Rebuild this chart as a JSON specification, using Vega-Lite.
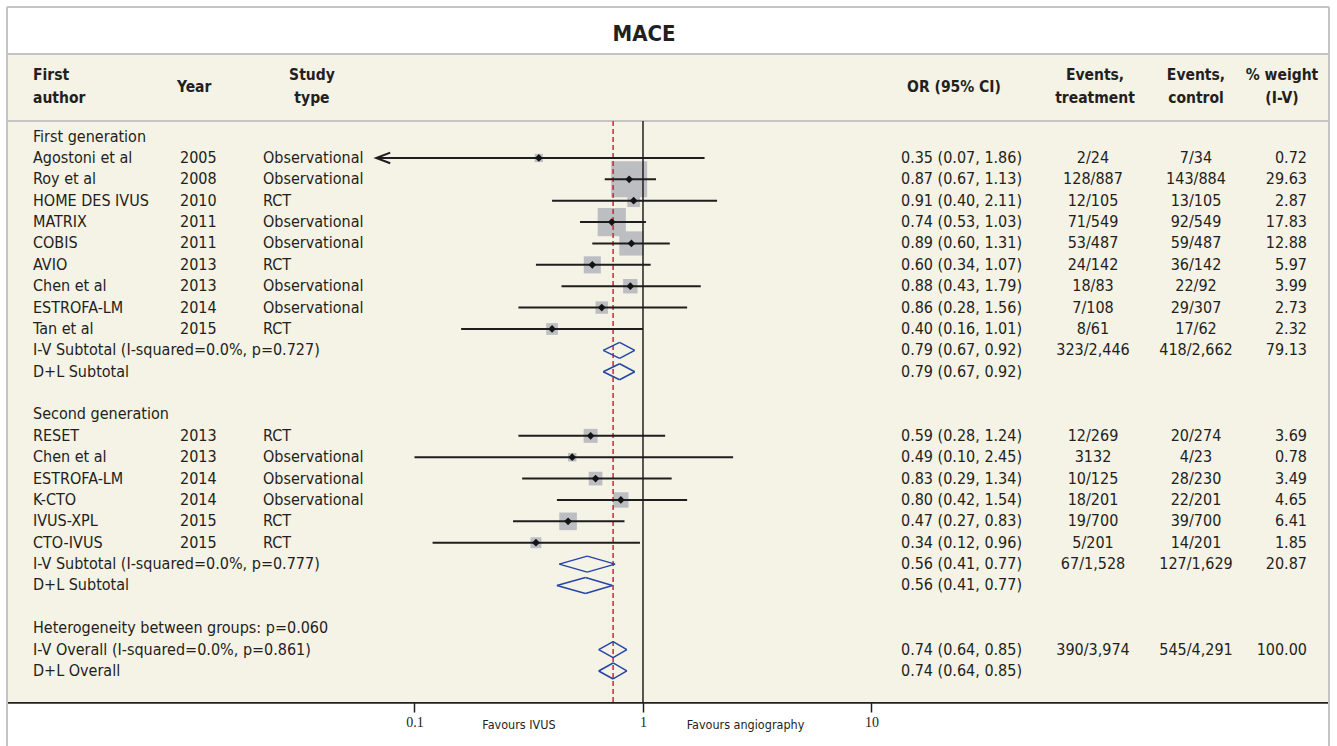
{
  "$schema": "https://vega.github.io/schema/vega-lite/v6.json",
  "width": 1322,
  "height": 739,
  "autosize": {"type": "none"},
  "padding": {"left": 7, "top": 7, "right": 8, "bottom": 0},
  "background": "#ffffff",
  "config": {
    "view": {"stroke": null},
    "text": {"font": "DejaVu Sans Condensed, sans-serif", "fontSize": 16, "color": "#231f20", "baseline": "middle"}
  },
  "resolve": {"axis": {"x": "independent", "y": "independent"}},
  "datasets": {
    "rows": [
      {"row": 0, "kind": "group", "label": "First generation"},
      {"row": 1, "kind": "study", "label": "Agostoni et al", "year": "2005", "type": "Observational", "est": 0.35, "lo": 0.068, "hi": 1.86, "orci": "0.35 (0.07, 1.86)", "evt": "2/24", "ctl": "7/34", "w": 0.72},
      {"row": 2, "kind": "study", "label": "Roy et al", "year": "2008", "type": "Observational", "est": 0.87, "lo": 0.68, "hi": 1.14, "orci": "0.87 (0.67, 1.13)", "evt": "128/887", "ctl": "143/884", "w": 29.63},
      {"row": 3, "kind": "study", "label": "HOME DES IVUS", "year": "2010", "type": "RCT", "est": 0.91, "lo": 0.40, "hi": 2.11, "orci": "0.91 (0.40, 2.11)", "evt": "12/105", "ctl": "13/105", "w": 2.87},
      {"row": 4, "kind": "study", "label": "MATRIX", "year": "2011", "type": "Observational", "est": 0.73, "lo": 0.53, "hi": 1.03, "orci": "0.74 (0.53, 1.03)", "evt": "71/549", "ctl": "92/549", "w": 17.83},
      {"row": 5, "kind": "study", "label": "COBIS", "year": "2011", "type": "Observational", "est": 0.89, "lo": 0.60, "hi": 1.31, "orci": "0.89 (0.60, 1.31)", "evt": "53/487", "ctl": "59/487", "w": 12.88},
      {"row": 6, "kind": "study", "label": "AVIO", "year": "2013", "type": "RCT", "est": 0.60, "lo": 0.34, "hi": 1.08, "orci": "0.60 (0.34, 1.07)", "evt": "24/142", "ctl": "36/142", "w": 5.97},
      {"row": 7, "kind": "study", "label": "Chen et al", "year": "2013", "type": "Observational", "est": 0.88, "lo": 0.44, "hi": 1.79, "orci": "0.88 (0.43, 1.79)", "evt": "18/83", "ctl": "22/92", "w": 3.99},
      {"row": 8, "kind": "study", "label": "ESTROFA-LM", "year": "2014", "type": "Observational", "est": 0.66, "lo": 0.285, "hi": 1.56, "orci": "0.86 (0.28, 1.56)", "evt": "7/108", "ctl": "29/307", "w": 2.73},
      {"row": 9, "kind": "study", "label": "Tan et al", "year": "2015", "type": "RCT", "est": 0.40, "lo": 0.16, "hi": 1.00, "orci": "0.40 (0.16, 1.01)", "evt": "8/61", "ctl": "17/62", "w": 2.32},
      {"row": 10, "kind": "sub", "label": "I-V Subtotal (I-squared=0.0%, p=0.727)", "est": 0.79, "lo": 0.67, "hi": 0.92, "orci": "0.79 (0.67, 0.92)", "evt": "323/2,446", "ctl": "418/2,662", "w": 79.13},
      {"row": 11, "kind": "sub", "label": "D+L Subtotal", "est": 0.79, "lo": 0.67, "hi": 0.92, "orci": "0.79 (0.67, 0.92)"},
      {"row": 13, "kind": "group", "label": "Second generation"},
      {"row": 14, "kind": "study", "label": "RESET", "year": "2013", "type": "RCT", "est": 0.59, "lo": 0.285, "hi": 1.25, "orci": "0.59 (0.28, 1.24)", "evt": "12/269", "ctl": "20/274", "w": 3.69},
      {"row": 15, "kind": "study", "label": "Chen et al", "year": "2013", "type": "Observational", "est": 0.49, "lo": 0.10, "hi": 2.48, "orci": "0.49 (0.10, 2.45)", "evt": "3132", "ctl": "4/23", "w": 0.78},
      {"row": 16, "kind": "study", "label": "ESTROFA-LM", "year": "2014", "type": "Observational", "est": 0.62, "lo": 0.296, "hi": 1.335, "orci": "0.83 (0.29, 1.34)", "evt": "10/125", "ctl": "28/230", "w": 3.49},
      {"row": 17, "kind": "study", "label": "K-CTO", "year": "2014", "type": "Observational", "est": 0.80, "lo": 0.42, "hi": 1.56, "orci": "0.80 (0.42, 1.54)", "evt": "18/201", "ctl": "22/201", "w": 4.65},
      {"row": 18, "kind": "study", "label": "IVUS-XPL", "year": "2015", "type": "RCT", "est": 0.47, "lo": 0.27, "hi": 0.83, "orci": "0.47 (0.27, 0.83)", "evt": "19/700", "ctl": "39/700", "w": 6.41},
      {"row": 19, "kind": "study", "label": "CTO-IVUS", "year": "2015", "type": "RCT", "est": 0.34, "lo": 0.12, "hi": 0.97, "orci": "0.34 (0.12, 0.96)", "evt": "5/201", "ctl": "14/201", "w": 1.85},
      {"row": 20, "kind": "sub", "label": "I-V Subtotal (I-squared=0.0%, p=0.777)", "est": 0.57, "lo": 0.43, "hi": 0.755, "orci": "0.56 (0.41, 0.77)", "evt": "67/1,528", "ctl": "127/1,629", "w": 20.87},
      {"row": 21, "kind": "sub", "label": "D+L Subtotal", "est": 0.56, "lo": 0.42, "hi": 0.735, "orci": "0.56 (0.41, 0.77)"},
      {"row": 23, "kind": "group", "label": "Heterogeneity between groups: p=0.060"},
      {"row": 24, "kind": "sub", "label": "I-V Overall (I-squared=0.0%, p=0.861)", "est": 0.74, "lo": 0.64, "hi": 0.85, "orci": "0.74 (0.64, 0.85)", "evt": "390/3,974", "ctl": "545/4,291", "w": 100.00},
      {"row": 25, "kind": "sub", "label": "D+L Overall", "est": 0.74, "lo": 0.64, "hi": 0.85, "orci": "0.74 (0.64, 0.85)"}
    ]
  },
  "data": {"name": "rows"},
  "layer": [
    {
      "data": {"values": [{}]},
      "mark": {"type": "rect", "color": "#f5f2e6"},
      "encoding": {
        "x": {"datum": 0.001647, "type": "quantitative", "scale": {"type": "log", "domain": [0.001647, 1005], "nice": false}, "axis": null},
        "x2": {"datum": 1005},
        "y": {"datum": -3.864, "type": "quantitative", "scale": {"domain": [-6.063, 28.51], "reverse": true, "nice": false, "zero": false}, "axis": null},
        "y2": {"datum": 26.45}
      }
    },
    {
      "data": {"values": [{}]},
      "mark": {"type": "rule", "color": "#c4c4c4", "strokeWidth": 2},
      "encoding": {
        "x": {"datum": 0.001647, "type": "quantitative", "axis": null},
        "x2": {"datum": 1005},
        "y": {"datum": -3.864, "type": "quantitative", "axis": null}
      }
    },
    {
      "data": {"values": [{}]},
      "mark": {"type": "rule", "color": "#c4c4c4", "strokeWidth": 2},
      "encoding": {
        "x": {"datum": 0.001647, "type": "quantitative", "axis": null},
        "x2": {"datum": 1005},
        "y": {"datum": -0.73, "type": "quantitative", "axis": null}
      }
    },
    {
      "data": {"values": [{}]},
      "mark": {"type": "rule", "color": "#c4c4c4", "strokeWidth": 2},
      "encoding": {
        "x": {"datum": 0.001647, "type": "quantitative", "axis": null},
        "x2": {"datum": 1005},
        "y": {"datum": -6.063, "type": "quantitative", "axis": null}
      }
    },
    {
      "data": {"values": [{}]},
      "mark": {"type": "rule", "color": "#c4c4c4", "strokeWidth": 2},
      "encoding": {
        "x": {"datum": 0.001647, "type": "quantitative", "axis": null},
        "y": {"datum": -6.063, "type": "quantitative", "axis": null},
        "y2": {"datum": 28.51}
      }
    },
    {
      "data": {"values": [{}]},
      "mark": {"type": "rule", "color": "#c4c4c4", "strokeWidth": 2},
      "encoding": {
        "x": {"datum": 1005, "type": "quantitative", "axis": null},
        "y": {"datum": -6.063, "type": "quantitative", "axis": null},
        "y2": {"datum": 28.51}
      }
    },
    {
      "transform": [{"filter": "datum.kind === 'study'"}],
      "mark": {"type": "square", "color": "#bcbec2", "opacity": 1, "filled": true},
      "encoding": {
        "x": {"field": "est", "type": "quantitative", "axis": null},
        "y": {"field": "row", "type": "quantitative", "axis": null},
        "size": {"field": "w", "type": "quantitative", "scale": {"domain": [0.72, 29.63], "range": [69, 1296], "zero": false}, "legend": null}
      }
    },
    {
      "data": {"values": [{}]},
      "mark": {"type": "rule", "color": "#231f20", "strokeWidth": 1.5},
      "encoding": {
        "x": {"datum": 1, "type": "quantitative", "axis": null},
        "y": {"datum": -0.73, "type": "quantitative", "axis": null},
        "y2": {"datum": 26.45}
      }
    },
    {
      "data": {"values": [{}]},
      "mark": {"type": "rule", "color": "#c8283a", "strokeWidth": 1.5, "strokeDash": [5, 3]},
      "encoding": {
        "x": {"datum": 0.74, "type": "quantitative", "axis": null},
        "y": {"datum": -0.73, "type": "quantitative", "axis": null},
        "y2": {"datum": 26.45}
      }
    },
    {
      "transform": [{"filter": "datum.kind === 'study'"}],
      "mark": {"type": "rule", "color": "#1e1e1e", "strokeWidth": 2},
      "encoding": {
        "x": {"field": "lo", "type": "quantitative", "axis": {"orient": "bottom", "offset": -44, "values": [0.1, 1, 10], "format": "~g", "title": null, "grid": false, "domainColor": "#231f20", "domainWidth": 2.5, "tickColor": "#231f20", "tickWidth": 1.5, "tickSize": 10, "labelFont": "Liberation Serif, serif", "labelFontSize": 14, "labelColor": "#231f20", "labelPadding": 3, "labelFlush": false}},
        "x2": {"field": "hi"},
        "y": {"field": "row", "type": "quantitative", "axis": null}
      }
    },
    {
      "transform": [{"filter": "datum.kind === 'study' && datum.lo < 0.095"}],
      "mark": {"type": "point", "shape": "M2,-0.76L0,0L2,0.76", "size": 196, "filled": false, "color": "#1e1e1e", "strokeWidth": 2, "opacity": 1},
      "encoding": {
        "x": {"field": "lo", "type": "quantitative", "axis": null},
        "y": {"field": "row", "type": "quantitative", "axis": null}
      }
    },
    {
      "transform": [{"filter": "datum.kind === 'study'"}],
      "mark": {"type": "point", "shape": "diamond", "size": 60, "filled": true, "color": "#141414", "opacity": 1},
      "encoding": {
        "x": {"field": "est", "type": "quantitative", "axis": null},
        "y": {"field": "row", "type": "quantitative", "axis": null}
      }
    },
    {
      "transform": [{"filter": "datum.kind === 'sub'"}],
      "mark": {"type": "rule", "color": "#2546a6", "strokeWidth": 1.5, "y2Offset": -8},
      "encoding": {
        "x": {"field": "lo", "type": "quantitative", "axis": null},
        "x2": {"field": "est"},
        "y": {"field": "row", "type": "quantitative", "axis": null},
        "y2": {"field": "row"}
      }
    },
    {
      "transform": [{"filter": "datum.kind === 'sub'"}],
      "mark": {"type": "rule", "color": "#2546a6", "strokeWidth": 1.5, "y2Offset": 8},
      "encoding": {
        "x": {"field": "lo", "type": "quantitative", "axis": null},
        "x2": {"field": "est"},
        "y": {"field": "row", "type": "quantitative", "axis": null},
        "y2": {"field": "row"}
      }
    },
    {
      "transform": [{"filter": "datum.kind === 'sub'"}],
      "mark": {"type": "rule", "color": "#2546a6", "strokeWidth": 1.5, "y2Offset": -8},
      "encoding": {
        "x": {"field": "hi", "type": "quantitative", "axis": null},
        "x2": {"field": "est"},
        "y": {"field": "row", "type": "quantitative", "axis": null},
        "y2": {"field": "row"}
      }
    },
    {
      "transform": [{"filter": "datum.kind === 'sub'"}],
      "mark": {"type": "rule", "color": "#2546a6", "strokeWidth": 1.5, "y2Offset": 8},
      "encoding": {
        "x": {"field": "hi", "type": "quantitative", "axis": null},
        "x2": {"field": "est"},
        "y": {"field": "row", "type": "quantitative", "axis": null},
        "y2": {"field": "row"}
      }
    },
    {
      "mark": {"type": "text", "align": "left"},
      "encoding": {
        "x": {"datum": 0.00214, "type": "quantitative", "axis": null},
        "y": {"field": "row", "type": "quantitative", "axis": null},
        "text": {"field": "label", "type": "nominal"}
      }
    },
    {
      "transform": [{"filter": "isValid(datum.year)"}],
      "mark": {"type": "text", "align": "left"},
      "encoding": {
        "x": {"datum": 0.009413, "type": "quantitative", "axis": null},
        "y": {"field": "row", "type": "quantitative", "axis": null},
        "text": {"field": "year", "type": "nominal"}
      }
    },
    {
      "transform": [{"filter": "isValid(datum.type)"}],
      "mark": {"type": "text", "align": "left"},
      "encoding": {
        "x": {"datum": 0.02173, "type": "quantitative", "axis": null},
        "y": {"field": "row", "type": "quantitative", "axis": null},
        "text": {"field": "type", "type": "nominal"}
      }
    },
    {
      "transform": [{"filter": "isValid(datum.orci)"}],
      "mark": {"type": "text", "align": "left"},
      "encoding": {
        "x": {"datum": 13.46, "type": "quantitative", "axis": null},
        "y": {"field": "row", "type": "quantitative", "axis": null},
        "text": {"field": "orci", "type": "nominal"}
      }
    },
    {
      "transform": [{"filter": "isValid(datum.evt)"}],
      "mark": {"type": "text", "align": "center"},
      "encoding": {
        "x": {"datum": 93.2, "type": "quantitative", "axis": null},
        "y": {"field": "row", "type": "quantitative", "axis": null},
        "text": {"field": "evt", "type": "nominal"}
      }
    },
    {
      "transform": [{"filter": "isValid(datum.ctl)"}],
      "mark": {"type": "text", "align": "center"},
      "encoding": {
        "x": {"datum": 263.1, "type": "quantitative", "axis": null},
        "y": {"field": "row", "type": "quantitative", "axis": null},
        "text": {"field": "ctl", "type": "nominal"}
      }
    },
    {
      "transform": [{"filter": "isValid(datum.w)"}],
      "mark": {"type": "text", "align": "right"},
      "encoding": {
        "x": {"datum": 805.2, "type": "quantitative", "axis": null},
        "y": {"field": "row", "type": "quantitative", "axis": null},
        "text": {"field": "w", "type": "quantitative", "format": ".2f"}
      }
    },
    {
      "data": {"values": [{}]},
      "mark": {"type": "text", "align": "center", "text": "MACE", "fontSize": 22, "fontWeight": "bold"},
      "encoding": {
        "x": {"datum": 1.01, "type": "quantitative", "axis": null},
        "y": {"datum": -4.777, "type": "quantitative", "axis": null}
      }
    },
    {
      "data": {"values": [{}]},
      "mark": {"type": "text", "align": "left", "text": ["First", "author"], "fontSize": 15.5, "fontWeight": "bold", "lineHeight": 23},
      "encoding": {
        "x": {"datum": 0.00214, "type": "quantitative", "axis": null},
        "y": {"datum": -2.88, "type": "quantitative", "axis": null}
      }
    },
    {
      "data": {"values": [{}]},
      "mark": {"type": "text", "align": "left", "text": "Year", "fontSize": 15.5, "fontWeight": "bold"},
      "encoding": {
        "x": {"datum": 0.009133, "type": "quantitative", "axis": null},
        "y": {"datum": -2.33, "type": "quantitative", "axis": null}
      }
    },
    {
      "data": {"values": [{}]},
      "mark": {"type": "text", "align": "center", "text": ["Study", "type"], "fontSize": 15.5, "fontWeight": "bold", "lineHeight": 23},
      "encoding": {
        "x": {"datum": 0.03559, "type": "quantitative", "axis": null},
        "y": {"datum": -2.88, "type": "quantitative", "axis": null}
      }
    },
    {
      "data": {"values": [{}]},
      "mark": {"type": "text", "align": "center", "text": "OR (95% CI)", "fontSize": 15.5, "fontWeight": "bold"},
      "encoding": {
        "x": {"datum": 22.96, "type": "quantitative", "axis": null},
        "y": {"datum": -2.33, "type": "quantitative", "axis": null}
      }
    },
    {
      "data": {"values": [{}]},
      "mark": {"type": "text", "align": "center", "text": ["Events,", "treatment"], "fontSize": 15.5, "fontWeight": "bold", "lineHeight": 23},
      "encoding": {
        "x": {"datum": 95.1, "type": "quantitative", "axis": null},
        "y": {"datum": -2.88, "type": "quantitative", "axis": null}
      }
    },
    {
      "data": {"values": [{}]},
      "mark": {"type": "text", "align": "center", "text": ["Events,", "control"], "fontSize": 15.5, "fontWeight": "bold", "lineHeight": 23},
      "encoding": {
        "x": {"datum": 263.1, "type": "quantitative", "axis": null},
        "y": {"datum": -2.88, "type": "quantitative", "axis": null}
      }
    },
    {
      "data": {"values": [{}]},
      "mark": {"type": "text", "align": "center", "text": ["% weight", "(I-V)"], "fontSize": 15.5, "fontWeight": "bold", "lineHeight": 23},
      "encoding": {
        "x": {"datum": 626.0, "type": "quantitative", "axis": null},
        "y": {"datum": -2.88, "type": "quantitative", "axis": null}
      }
    },
    {
      "data": {"values": [{}]},
      "mark": {"type": "text", "align": "center", "text": "Favours IVUS", "fontSize": 12.5},
      "encoding": {
        "x": {"datum": 0.2866, "type": "quantitative", "axis": null},
        "y": {"datum": 27.53, "type": "quantitative", "axis": null}
      }
    },
    {
      "data": {"values": [{}]},
      "mark": {"type": "text", "align": "center", "text": "Favours angiography", "fontSize": 12.5},
      "encoding": {
        "x": {"datum": 2.809, "type": "quantitative", "axis": null},
        "y": {"datum": 27.53, "type": "quantitative", "axis": null}
      }
    }
  ]
}
